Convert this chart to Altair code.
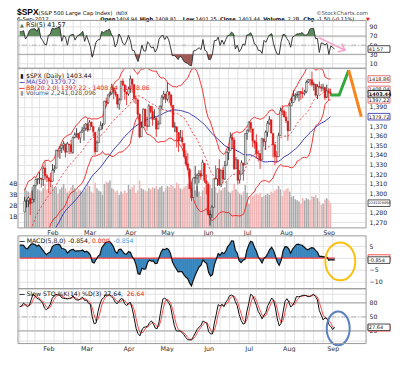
import json
import math
import numpy as np
import pandas as pd
import altair as alt

# ---------------- values ----------------
# closes before the first visible bar (only used to warm up MA/BB/RSI/MACD)
warm_closes = [1284.59, 1285.09, 1253.30,
    1218.28, 1237.90, 1261.15, 1253.23, 1261.12, 1275.92, 1229.10, 1239.69, 1263.85, 1251.78,
    1257.81, 1236.91, 1216.13, 1215.65, 1192.98, 1188.04, 1161.79, 1158.67, 1192.55, 1195.19, 1246.96,
    1244.58, 1244.28, 1257.08, 1258.47, 1261.01, 1234.35, 1255.19, 1236.47, 1225.73, 1211.82,
    1215.75, 1219.66, 1205.35, 1241.30, 1243.72, 1254.00, 1265.33, 1265.43, 1249.64, 1263.02, 1257.60,
    1277.06, 1277.30, 1281.06, 1277.81, 1280.70]

opens = [1280.8,1292.0,1292.5,1294.8,1290.2,1293.7,1308.1,1314.5,1315.3,1315.9,1314.4,1326.3,1318.3,1316.2,1313.5,
    1312.5,1324.2,1326.2,1344.3,1344.3,1347.0,1350.0,1351.2,1343.1,1351.3,1350.5,1342.6,1358.1,1361.2,1362.1,1357.5,1363.5,1365.2,1367.6,1372.2,
    1365.9,1374.1,1369.6,1363.6,1343.4,1352.7,1366.0,1370.8,1371.9,1395.9,1394.2,1402.6,1404.2,1409.6,1405.5,1402.9,1392.8,1397.1,1416.6,1412.5,1405.4,1403.3,
    1408.5,1419.0,1413.1,1398.8,1397.4,1382.2,1359.0,1368.8,1387.6,1370.3,1369.6,1390.8,1385.1,1377.0,1378.5,1367.0,1372.1,1390.6,1400.2,1403.3,
    1397.9,1405.5,1402.3,1391.5,1368.8,1369.2,1363.2,1354.6,1358.1,1351.9,1338.4,1330.8,1324.8,1305.1,1295.7,1316.1,1316.0,1318.7,1320.6,1318.9,1331.3,1313.1,
    1309.9,1278.3,1277.8,1285.6,1316.1,1315.0,1325.7,1309.4,1324.0,1314.9,1329.2,1342.4,1344.8,1358.0,1355.4,1325.9,1334.9,1314.1,1320.1,1331.5,1330.1,
    1362.3,1365.8,1373.7,1367.1,1354.7,1353.0,1341.4,1341.4,1334.8,1356.5,1353.7,1363.6,1373.0,1376.5,1362.3,1350.5,1338.4,1338.2,1360.1,1385.9,1385.3,
    1379.3,1375.1,1365.5,1391.0,1394.5,1401.2,1402.3,1402.6,1405.9,1404.4,1403.9,1405.6,1415.8,1417.9,1418.1,1413.1,1413.5,1402.0,1411.1,1410.4,1409.3,1410.1,1400.1,
    1406.5,1404.9]
highs = [1296.5,1293.8,1296.8,1294.8,1303.0,1308.1,1315.5,1315.4,1322.3,1315.9,1328.3,1333.5,1320.1,1316.2,1321.4,
    1330.5,1329.2,1345.3,1344.4,1349.2,1351.0,1354.3,1351.2,1353.4,1351.3,1355.9,1359.0,1363.4,1367.8,1362.7,1364.2,1368.9,1371.9,1373.1,1378.0,
    1376.2,1374.5,1369.6,1363.6,1354.9,1368.7,1374.8,1373.0,1396.1,1399.4,1402.6,1405.9,1414.0,1409.6,1407.8,1402.9,1399.2,1416.6,1419.2,1413.7,1405.4,1410.9,
    1422.4,1419.0,1413.1,1401.6,1397.4,1383.0,1374.7,1388.1,1387.6,1379.7,1392.8,1390.8,1390.5,1387.4,1378.5,1375.6,1391.4,1402.1,1406.6,1403.3,
    1415.3,1405.5,1403.1,1391.5,1373.9,1369.2,1363.7,1365.9,1365.7,1351.9,1344.9,1341.8,1326.4,1312.2,1316.4,1328.5,1320.7,1324.1,1324.2,1334.9,1331.3,1319.7,
    1309.9,1282.6,1287.6,1315.1,1329.1,1325.8,1335.5,1324.3,1327.3,1333.7,1343.3,1348.2,1363.5,1361.6,1358.3,1337.8,1334.9,1324.2,1334.4,1331.5,1362.2,
    1366.4,1374.8,1373.9,1367.1,1354.9,1361.5,1345.0,1341.4,1357.7,1357.3,1365.4,1375.3,1380.4,1376.5,1362.3,1351.5,1344.0,1363.1,1389.2,1391.7,1387.2,
    1385.0,1375.1,1394.2,1399.6,1407.1,1404.1,1406.0,1406.0,1405.9,1410.0,1407.7,1417.4,1418.7,1418.7,1426.7,1416.1,1413.5,1413.5,1416.2,1413.6,1414.0,1410.1,1413.1,
    1409.3,1408.8]
lows = [1280.8,1285.4,1285.8,1277.6,1290.2,1290.9,1308.1,1309.2,1309.9,1306.1,1307.7,1313.6,1311.7,1300.5,1306.7,
    1312.5,1321.6,1326.2,1337.5,1335.9,1341.9,1344.6,1337.4,1343.1,1340.8,1340.8,1341.2,1357.2,1358.1,1355.5,1352.3,1363.5,1354.9,1365.1,1363.8,
    1365.9,1368.9,1359.1,1340.0,1343.4,1352.7,1366.0,1366.7,1371.9,1390.0,1392.8,1401.5,1402.4,1397.7,1400.6,1388.7,1386.9,1397.1,1411.9,1397.2,1391.6,1401.4,
    1404.5,1404.6,1394.1,1392.9,1378.2,1357.4,1359.0,1368.8,1369.9,1365.4,1369.6,1383.3,1370.3,1377.0,1358.8,1366.8,1372.1,1387.3,1397.3,1394.0,
    1395.7,1393.9,1388.7,1368.0,1363.9,1347.8,1343.1,1354.6,1348.9,1337.4,1328.5,1324.8,1304.9,1292.0,1295.7,1310.0,1296.5,1310.5,1314.2,1318.9,1310.8,1298.9,
    1277.3,1266.7,1274.2,1285.6,1314.5,1307.8,1307.7,1306.6,1310.5,1314.1,1329.2,1334.6,1344.8,1346.5,1324.4,1325.9,1309.3,1310.3,1320.1,1313.3,1330.1,
    1355.7,1363.5,1363.0,1348.0,1346.7,1336.3,1333.3,1325.4,1334.8,1348.5,1345.1,1358.9,1371.2,1362.2,1337.6,1329.2,1331.5,1338.2,1360.1,1381.4,1379.2,
    1373.1,1354.7,1365.5,1391.0,1394.5,1396.6,1398.8,1395.6,1397.3,1398.8,1401.8,1404.2,1414.7,1412.1,1410.9,1406.8,1400.5,1398.0,1409.1,1405.6,1406.6,1397.0,1399.0,
    1396.6,1401.3]
closes = [1292.08,1292.48,1295.50,1289.09,1293.67,1308.04,1314.50,1315.38,1316.00,1314.65,1326.06,1318.43,1316.33,1313.01,1312.41,
    1324.09,1325.54,1344.90,1344.33,1347.05,1349.96,1351.95,1342.64,1351.77,1350.50,1343.23,1358.04,1361.23,1362.21,1357.66,1363.46,1365.74,1367.59,1372.18,1365.68,
    1374.09,1369.63,1364.33,1343.36,1352.63,1365.91,1370.87,1371.09,1395.95,1394.28,1402.60,1404.17,1409.75,1405.52,1402.89,1392.78,1397.11,1416.51,1412.52,1405.54,1403.28,1408.47,
    1419.04,1413.38,1398.96,1398.08,1382.20,1358.59,1368.71,1387.57,1370.26,1369.57,1390.78,1385.14,1376.92,1378.53,1366.94,1371.97,1390.69,1399.98,1403.36,1397.91,
    1405.82,1402.31,1391.57,1369.10,1369.58,1363.72,1354.58,1357.99,1353.39,1338.35,1330.66,1324.80,1304.86,1295.22,1315.99,1316.63,1318.86,1320.68,1317.82,1332.42,1313.32,1310.33,
    1278.04,1278.18,1285.50,1315.13,1314.99,1325.66,1308.93,1324.18,1314.88,1329.10,1342.84,1344.78,1357.98,1355.69,1325.51,1335.02,1313.72,1319.99,1331.85,1329.04,1362.16,
    1365.51,1374.02,1367.58,1354.68,1352.46,1341.47,1341.45,1334.76,1356.78,1353.64,1363.67,1372.78,1376.51,1362.66,1350.52,1338.31,1337.89,1360.02,1385.97,1385.30,1379.32,
    1375.32,1365.00,1390.99,1394.23,1401.35,1402.22,1402.80,1405.87,1404.11,1403.93,1405.53,1415.51,1418.16,1418.13,1413.17,1413.49,1402.08,1411.13,1410.44,1409.30,1410.49,1399.48,1406.58,
    1404.94,1403.44]
volumes_bn = [3.6,3.4,3.3,3.2,3.7,3.9,3.8,3.5,3.4,3.3,3.6,4.0,3.5,3.4,3.9,
    3.9,3.6,3.7,3.1,3.5,3.7,4.0,3.6,3.2,3.4,3.7,3.9,3.6,3.3,3.5,3.4,3.2,3.3,3.6,4.1,
    3.8,3.3,3.2,4.1,3.6,3.4,3.3,3.0,4.0,4.2,4.1,4.3,3.6,3.5,3.3,3.4,3.0,3.3,3.1,3.4,3.2,3.9,
    3.5,3.7,3.9,3.2,3.4,4.3,3.6,3.5,3.4,3.3,3.6,3.5,3.7,3.6,3.8,3.5,3.7,3.8,3.3,3.6,
    3.8,3.7,3.9,3.8,3.6,4.1,4.0,3.6,3.5,3.7,3.8,4.0,4.1,4.4,3.6,3.4,3.8,3.3,2.9,3.4,3.7,3.9,
    4.2,3.9,3.6,3.8,3.7,3.2,3.5,3.4,3.6,3.7,4.3,3.3,3.2,3.4,4.0,3.5,3.3,3.1,3.0,3.3,3.9,
    3.2,2.2,2.8,2.9,3.0,3.1,3.0,3.2,2.8,2.9,3.0,3.1,3.0,3.3,3.2,3.4,3.5,3.8,3.5,2.9,3.4,
    3.5,3.6,3.3,2.8,2.9,2.6,2.5,2.4,2.2,2.7,2.5,2.7,2.6,2.5,2.9,2.8,3.0,2.7,2.4,2.1,2.2,2.6,2.7,
    2.5,2.24]
holidays = ["2012-01-16", "2012-02-20", "2012-04-06", "2012-05-28", "2012-07-04", "2012-09-03"]
month_names = ["Feb", "Mar", "Apr", "May", "Jun", "Jul", "Aug", "Sep"]

# hand-drawn annotations, in (bar index, value) terms
fc_green_x = [165.0, 169.7, 174.8]
fc_green_y = [1402.2, 1402.2, 1428.0]
fc_orange_x = [174.8, 181.6]
fc_orange_y = [1428.0, 1379.7]
rsi_arrow_x = [156.8, 170.5]
rsi_arrow_y = [66.1, 38.8]
macd_ring_x, macd_ring_y = [168.0], [-1.4]
sto_ring_x, sto_ring_y = [166.9], [25.3]

# ---------------- frame + indicators ----------------
days = [d for d in pd.bdate_range("2012-01-10", "2012-09-05") if d.strftime("%Y-%m-%d") not in holidays]
n = len(closes)
k = len(warm_closes)
allc = pd.Series(warm_closes + closes, dtype=float)
mid = allc.rolling(20).mean()
sd = allc.rolling(20).std(ddof=0)
dlt = allc.diff()
up = dlt.clip(lower=0).ewm(alpha=1 / 5, adjust=False).mean()
dn = (-dlt).clip(lower=0).ewm(alpha=1 / 5, adjust=False).mean()
rsi = (100 - 100 / (1 + up / dn)).iloc[k:].to_numpy()
macd = (allc.ewm(span=5, adjust=False).mean() - allc.ewm(span=8, adjust=False).mean()).iloc[k:].to_numpy()
Hs, Ls, Cs = pd.Series(highs), pd.Series(lows), pd.Series(closes)
hh = Hs.rolling(14, min_periods=1).max()
ll = Ls.rolling(14, min_periods=1).min()
fast_k = 100 * (Cs - ll) / (hh - ll)
slow_k = fast_k.rolling(3, min_periods=1).mean()
slow_d = slow_k.rolling(3, min_periods=1).mean()
prev = [warm_closes[-1]] + closes[:-1]
down = [c < p for c, p in zip(closes, prev)]

df = pd.DataFrame({
    "i": np.arange(n), "date": [d.strftime("%Y-%m-%d") for d in days],
    "o": opens, "h": highs, "l": lows, "c": closes, "vol": volumes_bn,
    "ma": allc.rolling(50).mean().iloc[k:].to_numpy(),
    "bbm": mid.iloc[k:].to_numpy(),
    "bbu": (mid + 2 * sd).iloc[k:].to_numpy(),
    "bbl": (mid - 2 * sd).iloc[k:].to_numpy(),
    "rsi": rsi, "rsi_hi": np.maximum(rsi, 70), "rsi_lo": np.minimum(rsi, 30),
    "macd": macd, "sk": slow_k.to_numpy(), "sd": slow_d.to_numpy(),
})
df["ccol"] = ["#e01818" if d else "#1a1a1a" for d in down]
df["bfill"] = ["#ffffff" if c > o else col for c, o, col in zip(closes, opens, df["ccol"])]
df["vcol"] = ["#f1b3b3" if d else "#aaaaaa" for d in down]

iso = [d.isocalendar()[1] for d in days]
week_idx = [int(i) for i in range(n) if i == 0 or iso[i] != iso[i - 1]]
month_idx = [int(i) for i in range(1, n) if days[i].month != days[i - 1].month]
wk = pd.DataFrame({"i": week_idx})

# ---------------- layout ----------------
W = 349
H_HEAD, H_RSI, H_MAIN, H_MACD, H_STO = 12, 48, 160, 61, 55
MT = 8
FONT = "DejaVu Sans"
ONE = alt.Data(values=[{}])
GRID = "#e2e2e2"
FRAME = "#9b9b9b"
RED = "#f02020"
BLUE = "#3b3bb0"
PINK = "#f7a3c8"

XD = [-0.93, 181.5]
X_SC = alt.Scale(domain=XD, nice=False, zero=False)
RSI_D = [-0.5, 104]
RSI_SC = alt.Scale(domain=RSI_D, nice=False, zero=False)
P_SC = alt.Scale(domain=[1264.2, 1430], nice=False, zero=False)
V_SC = alt.Scale(domain=[0, 14.5], nice=False, zero=False)
M_SC = alt.Scale(domain=[-12.9, 12.7], nice=False, zero=False)
S_SC = alt.Scale(domain=[-7.1, 110.1], nice=False, zero=False)


def raxis(values, expr=None):
    kw = dict(orient="right", values=values, grid=True, gridColor=GRID, ticks=False, domain=False,
              labelPadding=3, labelOverlap=False, labelFlush=False, labelFontSize=6.2, labelColor="#222")
    if expr:
        kw["labelExpr"] = expr
    return alt.Axis(**kw)


MONTH_AX = alt.Axis(values=month_idx, orient="bottom", grid=False, ticks=False, domain=False,
                    labelPadding=1.5, labelFlush=False, labelOverlap=False, labelFontSize=6.4,
                    labelColor="#333",
                    labelExpr=f"{json.dumps(month_names)}[indexof({json.dumps(month_idx)}, datum.value)]")
RSI_AX = raxis([10, 30, 50, 70, 90])
P_AX = raxis(list(range(1270, 1431, 10)),
             "indexof([1290,1380,1400,1410,1420,1430], datum.value) >= 0 ? '' : datum.label")
V_AX = alt.Axis(orient="left", values=[1, 2, 3, 4], grid=False, ticks=False, domain=False, labelPadding=1,
                labelFontSize=6.2, labelColor="#222", labelExpr="datum.value + 'B'")
M_AX = raxis([-10, -5, 0, 5], "datum.value == 0 ? '' : datum.label")
S_AX = raxis([0, 20, 50, 80, 100], "indexof([20,50,80], datum.value) >= 0 ? datum.label : ''")


def xq(field, xa):
    return alt.X(f"{field}:Q", scale=X_SC, axis=xa, title=None)


def yq(field, sc, ya):
    return alt.Y(f"{field}:Q", scale=sc, axis=ya, title=None)


def txt(s, x, y, size=6.2, color="#111", bold=False, align="left", baseline="middle", font=FONT):
    return alt.Chart(ONE).mark_text(text=s, align=align, baseline=baseline, fontSize=size, font=font,
                                    fontWeight="bold" if bold else "normal", color=color).encode(
        x=alt.value(x), y=alt.value(y))


def vgrid(top, bot, xa):
    return alt.Chart(wk).mark_rule(color=GRID, strokeWidth=1).encode(
        x=xq("i", xa), y=alt.value(top), y2=alt.value(bot))


def frame(top, bot):
    return alt.Chart(ONE).mark_rect(fillOpacity=0, stroke=FRAME, strokeWidth=1).encode(
        x=alt.value(0), x2=alt.value(W), y=alt.value(top), y2=alt.value(bot))


def hline(vals, sc, ya, color, dash=None, width=1.0):
    kw = dict(color=color, strokeWidth=width)
    if dash:
        kw["strokeDash"] = dash
    return alt.Chart(pd.DataFrame({"v": vals})).mark_rule(**kw).encode(y=yq("v", sc, ya))


BOX = "M -1 -0.3 L 1 -0.3 L 1 0.3 L -1 0.3 Z"


def tag(v, label, sc, ya, stroke, tcolor="#111", bold=False, size=5.0):
    d = alt.Data(values=[{"v": v}])
    y = yq("v", sc, ya)
    box = alt.Chart(d).mark_point(shape=BOX, size=22 * 22, filled=True, fill="white", stroke=stroke,
                                  strokeWidth=0.9, opacity=1).encode(x=alt.value(W + 13), y=y)
    t = alt.Chart(d).mark_text(text=label, align="left", baseline="middle", fontSize=size, font=FONT,
                               color=tcolor, fontWeight="bold" if bold else "normal").encode(
        x=alt.value(W + 2.8), y=y)
    return [box, t]


def ellipse_path(a):
    c = 0.5523
    return (f"M {a:.3f} 0 C {a:.3f} {c} {a*c:.3f} 1 0 1 C {-a*c:.3f} 1 {-a:.3f} {c} {-a:.3f} 0 "
            f"C {-a:.3f} {-c} {-a*c:.3f} -1 0 -1 C {a*c:.3f} -1 {a:.3f} {-c} {a:.3f} 0 Z")


def ring(xs, ys, sc, xa, ya, rx, ry, color):
    d = pd.DataFrame({"x": xs, "y": ys})
    return alt.Chart(d).mark_point(shape=ellipse_path(rx / ry), size=(2 * ry) ** 2, filled=False,
                                   color=color, strokeWidth=2, opacity=1).encode(
        x=xq("x", xa), y=yq("y", sc, ya))


base = alt.Chart(df)

# ---------------- header ----------------
pieces = [("Open", 82.5, True), ("1404.94", 98.3, False), ("High", 122, True), ("1408.81", 137.6, False),
          ("Low", 165.2, True), ("1401.25", 178, False), ("Close", 202.5, True), ("1403.44", 221.2, False),
          ("Volume", 245.8, True), ("2.2B", 270.3, False), ("Chg", 286.1, True), ("-1.50 (-0.11%)", 299.8, False)]
head_layers = [
    txt("$SPX", -1, 7, size=8.5, bold=True, baseline="alphabetic", font="Liberation Sans", color="#000"),
    txt("(S&P 500 Large Cap Index)", 20.6, 7, size=5.5, baseline="alphabetic"),
    txt("INDX", 98.3, 7, size=4.7, baseline="alphabetic"),
    txt("©StockCharts.com", W + 2, 7, size=5.5, align="right", baseline="alphabetic", color="#555"),
    txt("6-Sep-2012", -1, 12.5, size=5.5, baseline="alphabetic"),
    txt("▼", W, 12.5, size=5, baseline="alphabetic", color=RED),
]
for s, x, b in pieces:
    head_layers.append(txt(s, x, 12.5, size=5.2, bold=b, baseline="alphabetic", color="#000"))
head = alt.layer(*head_layers).properties(width=W, height=H_HEAD)

# ---------------- RSI ----------------
arrow = pd.DataFrame({"x": rsi_arrow_x, "y": rsi_arrow_y})
px_x = (rsi_arrow_x[1] - rsi_arrow_x[0]) * W / (XD[1] - XD[0])
px_y = (rsi_arrow_y[0] - rsi_arrow_y[1]) * H_RSI / (RSI_D[1] - RSI_D[0])
arrow_angle = math.degrees(math.atan2(px_y, px_x))
rsi_panel = alt.layer(
    vgrid(0, H_RSI, None),
    hline([70, 30], RSI_SC, RSI_AX, "#a3a3a3"),
    hline([50], RSI_SC, RSI_AX, "#b3b3b3", dash=[5, 2, 1, 2]),
    base.mark_area(color="#5d8c5b").encode(x=xq("i", None), y=yq("rsi_hi", RSI_SC, RSI_AX), y2=alt.Y2Datum(70)),
    base.mark_area(color="#9e5a57").encode(x=xq("i", None), y=yq("rsi_lo", RSI_SC, RSI_AX), y2=alt.Y2Datum(30)),
    base.mark_line(color="#3a3a3a", strokeWidth=1).encode(x=xq("i", None), y=yq("rsi", RSI_SC, RSI_AX)),
    alt.Chart(arrow).mark_line(color=PINK, strokeWidth=1.5).encode(x=xq("x", None), y=yq("y", RSI_SC, RSI_AX)),
    alt.Chart(arrow.tail(1)).mark_point(shape="M -1 -0.75 L 0 0 L -1 0.75", size=144, filled=False,
                                        color=PINK, strokeWidth=1.5, angle=arrow_angle, opacity=1).encode(
        x=xq("x", None), y=yq("y", RSI_SC, RSI_AX)),
    txt("▲", 4, 4.5, size=5, color="#4d7a4b", align="center"),
    txt("RSI(5) 41.57", 8, 4.5, size=6.4, color="#222"),
    *tag(41.57, "41.57", RSI_SC, RSI_AX, "#333"),
    frame(0, H_RSI),
).properties(width=W, height=H_RSI)

# ---------------- main price panel ----------------
vol_layer = alt.layer(
    base.mark_bar(size=1.5).encode(
        x=xq("i", MONTH_AX), y=yq("vol", V_SC, V_AX), color=alt.Color("vcol:N", scale=None)),
    *tag(2.241028096, "2241028096", V_SC, V_AX, "#444", size=3.4),
)
fg = pd.DataFrame({"x": fc_green_x, "y": fc_green_y})
fo = pd.DataFrame({"x": fc_orange_x, "y": fc_orange_y})
price_layer = alt.layer(
    base.mark_line(color=RED, strokeWidth=0.8, strokeDash=[2, 2], clip=True).encode(
        x=xq("i", MONTH_AX), y=yq("bbm", P_SC, P_AX)),
    base.mark_line(color=RED, strokeWidth=0.9, clip=True).encode(x=xq("i", MONTH_AX), y=yq("bbu", P_SC, P_AX)),
    base.mark_line(color=RED, strokeWidth=0.9, clip=True).encode(x=xq("i", MONTH_AX), y=yq("bbl", P_SC, P_AX)),
    base.mark_line(color=BLUE, strokeWidth=1, clip=True).encode(x=xq("i", MONTH_AX), y=yq("ma", P_SC, P_AX)),
    base.mark_rule(strokeWidth=0.8).encode(
        x=xq("i", MONTH_AX), y=yq("l", P_SC, P_AX), y2="h:Q",
        color=alt.Color("ccol:N", scale=None)),
    base.mark_bar(size=1.6, strokeWidth=0.5).encode(
        x=xq("i", MONTH_AX), y=yq("o", P_SC, P_AX), y2="c:Q",
        color=alt.Color("bfill:N", scale=None), stroke=alt.Stroke("ccol:N", scale=None)),
    alt.Chart(fg).mark_line(color="#33a83a", strokeWidth=3).encode(x=xq("x", MONTH_AX), y=yq("y", P_SC, P_AX)),
    alt.Chart(fo).mark_line(color="#f7841c", strokeWidth=3).encode(x=xq("x", MONTH_AX), y=yq("y", P_SC, P_AX)),
    txt("▮", 4, 7.3, size=6, color="#111", align="center"),
    txt("$SPX (Daily) 1403.44", 8, 7.3, color="#111"),
    txt("—", 4, 13.3, size=6, color=BLUE, align="center", bold=True),
    txt("MA(50) 1379.72", 8, 13.3, color=BLUE),
    txt("—", 4, 19.3, size=6, color=RED, align="center", bold=True),
    txt("BB(20,2.0) 1397.22 - 1408.04 - 1418.86", 8, 19.3, color=RED),
    txt("▮", 4, 25.2, size=6, color="#999", align="center"),
    txt("Volume 2,241,028,096", 8, 25.2, color="#555"),
    *tag(1418.86, "1418.86", P_SC, P_AX, "#e86060"),
    *tag(1408.04, "1408.04", P_SC, P_AX, "#e86060"),
    *tag(1397.22, "1397.22", P_SC, P_AX, "#e86060"),
    *tag(1379.72, "1379.72", P_SC, P_AX, BLUE),
    *tag(1403.44, "1403.44", P_SC, P_AX, "#111", bold=True),
    frame(0, H_MAIN),
)
main_panel = alt.layer(vgrid(0, H_MAIN, MONTH_AX), vol_layer, price_layer).resolve_scale(
    y="independent").properties(width=W, height=H_MAIN)

# ---------------- MACD ----------------
macd_panel = alt.layer(
    vgrid(MT, H_MACD, None),
    base.mark_area(color="#3f8dc5").encode(x=xq("i", None), y=yq("macd", M_SC, M_AX), y2=alt.Y2Datum(0)),
    base.mark_rule(color="#2a6a9c", strokeWidth=0.5, opacity=0.6).encode(
        x=xq("i", None), y=yq("macd", M_SC, M_AX), y2=alt.Y2Datum(0)),
    alt.Chart(ONE).mark_rule(color="#ff3b3b", strokeWidth=1.2).encode(
        x=alt.XDatum(0, scale=X_SC, axis=None, title=None), x2=alt.X2Datum(n - 1),
        y=alt.YDatum(0, scale=M_SC, axis=M_AX, title=None)),
    base.mark_line(color="#111", strokeWidth=1.2).encode(x=xq("i", None), y=yq("macd", M_SC, M_AX)),
    txt("—", 4, MT + 4.7, size=6, color="#111", align="center", bold=True),
    txt("MACD(5,8,0)", 8.7, MT + 4.7, color="#111"),
    txt("-0.854,", 50.2, MT + 4.7, color="#111"),
    txt("0.000,", 74.2, MT + 4.7, color=RED),
    txt("-0.854", 95.8, MT + 4.7, color="#3aa0e0"),
    *tag(0.0, "", M_SC, M_AX, "#ff4040"),
    *tag(-0.854, "-0.854", M_SC, M_AX, "#333"),
    ring(macd_ring_x, macd_ring_y, M_SC, None, M_AX, 15, 19, "#fbbf10"),
    frame(MT, H_MACD),
).properties(width=W, height=H_MACD)

# ---------------- Slow STO ----------------
sto_panel = alt.layer(
    vgrid(0, H_STO, MONTH_AX),
    hline([80, 20], S_SC, S_AX, "#a3a3a3"),
    hline([50], S_SC, S_AX, "#b3b3b3", dash=[5, 2, 1, 2]),
    base.mark_line(color="#ff4a4a", strokeWidth=1).encode(x=xq("i", MONTH_AX), y=yq("sd", S_SC, S_AX)),
    base.mark_line(color="#111", strokeWidth=1).encode(x=xq("i", MONTH_AX), y=yq("sk", S_SC, S_AX)),
    txt("—", 4, 5.3, size=6, color="#111", align="center", bold=True),
    txt("Slow STO %K(14) %D(3) 27.64,", 8.7, 5.3, color="#111"),
    txt("26.64", 109, 5.3, color=RED),
    *tag(26.64, "", S_SC, S_AX, "#ff4040"),
    *tag(27.64, "27.64", S_SC, S_AX, "#333"),
    ring(sto_ring_x, sto_ring_y, S_SC, MONTH_AX, S_AX, 11.5, 17, "#5b80bf"),
    frame(0, H_STO),
).properties(width=W, height=H_STO)

chart = alt.vconcat(head, rsi_panel, main_panel, macd_panel, sto_panel, spacing=0, bounds="flush",
                    padding=0).configure(font=FONT, background="white").configure_view(
    strokeOpacity=0).configure_axis(labelFont=FONT)

chart.save("out.html", embed_options={"renderer": "svg", "actions": False})
